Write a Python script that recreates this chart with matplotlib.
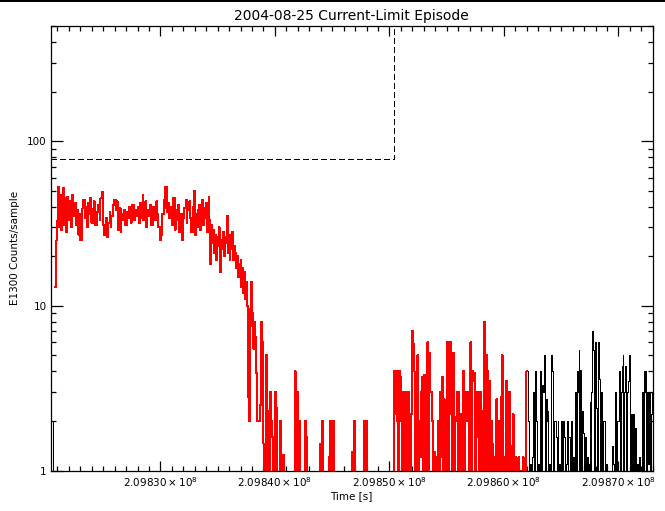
import numpy as np
import matplotlib
matplotlib.use('Agg')
import matplotlib.pyplot as plt
from matplotlib.ticker import MultipleLocator, FixedLocator, FuncFormatter, LogLocator, NullFormatter

# ---------------- data ----------------
t_first = 2.0982040e8      # time of first sample [s]
sample_dt = 80.0           # sample spacing [s]
x_start, x_end = 2.0982040e8, 2.0987302e8

counts_pre = [0, 0, 0, 2, 2]

counts_plateau = [13, 23, 25, 33, 53, 30, 47, 29, 44, 52, 31, 45,
                  28, 46, 46, 33, 43, 43, 30, 47, 35, 35, 42, 31,
                  38, 38, 27, 36, 25, 25, 39, 44, 44, 34, 40, 30,
                  42, 42, 36, 45, 32, 32, 39, 43, 31, 31, 37, 41,
                  41, 33, 45, 45, 49, 31, 27, 27, 34, 26, 32, 32,
                  37, 30, 35, 35, 41, 44, 44, 38, 43, 29, 29, 39,
                  28, 36, 36, 33, 38, 31, 31, 37, 34, 40, 40, 32,
                  39, 41, 41, 33, 38, 35, 35, 40, 32, 42, 42, 34,
                  47, 33, 33, 43, 30, 38, 38, 35, 41, 31, 31, 40,
                  37, 33, 33, 43, 36, 30, 30, 25, 27, 36, 36, 44,
                  39, 53, 53, 37, 42, 34, 34, 40, 31, 45, 45, 29,
                  38, 33, 33, 41, 28, 36, 36, 25, 34, 39, 39, 44,
                  32, 38, 38, 43, 34, 28, 28, 40, 50, 27, 36, 30]

counts_decline = [38, 32, 41, 29, 36, 44, 31, 39, 34, 42, 28, 37,
                  46, 33, 18, 31, 24, 29, 21, 27, 19, 26, 23, 30,
                  20, 16, 25, 22, 28, 20, 26, 24, 35, 21, 27, 19,
                  25, 22, 28, 19, 23, 21, 17, 20, 15, 18]

counts_drop = [15, 19, 13, 17, 12, 16, 11, 14, 10, 2.8,
               2, 9.5, 14, 7.5, 9, 5.5, 8, 6.5, 3.9, 2,
               2, 2, 2.5, 8, 4.5, 6, 1.45, 0, 0, 5,
               2.3, 0, 0, 3, 2, 1.6, 0, 0, 0, 3,
               2.4, 0, 0, 0, 2, 1.25, 0, 1.25, 0, 0,
               0]

counts_quiet = [0, 0, 0, 0, 0, 0, 0, 0, 0, 4,
                0, 0, 3, 0, 2, 0, 0, 0, 0, 0,
                2, 0, 1.6, 0, 0, 0, 0, 0, 0, 0,
                0, 0, 0, 0, 0, 0, 0, 1.45, 0, 2,
                0, 0, 0, 0, 0, 0, 1.2, 0, 2, 0,
                0, 2, 0, 0, 0, 0, 0, 0, 0, 0,
                0, 0, 0, 0, 0, 0, 0, 0, 0, 0,
                0, 0, 1.3, 0, 2, 0, 0, 0, 0, 0,
                0, 0, 0, 0, 0, 2, 0, 2, 0, 0,
                0, 0, 0, 0, 0, 0, 0, 0, 0, 0,
                0, 0, 0, 0, 0, 0, 0, 0, 0, 0,
                0, 0, 0, 0, 0, 0]

counts_noisy = [0, 4, 3, 2.2, 4, 2, 0, 4, 3.7, 2,
                0, 3, 0, 1.2, 0, 3, 0, 3, 2.2, 0,
                2.2, 7, 5.9, 4, 0, 3, 2, 5, 0, 2,
                1.2, 3, 3.7, 0, 3.8, 2, 0, 2.7, 6, 0,
                5.2, 3, 3, 2, 0, 1.3, 0, 1.2, 0, 2,
                1.6, 0, 3, 1.2, 3.7, 0, 2.7, 2, 0, 6,
                0, 6, 4, 6, 2.2, 0, 5.2, 0, 2.1, 2,
                3, 0, 3, 2, 2.2, 0, 1.1, 4, 0, 3,
                2, 3, 2, 0, 1.5, 6, 0, 4, 3.5, 3.9,
                0, 3, 1.6, 3, 0, 2.3, 3, 2, 0, 2.3,
                8, 0, 5, 4, 0, 3.5, 2, 0, 2, 1.45,
                0, 1.2, 0, 2.7, 2, 0, 2, 0, 2.8, 5,
                3.5, 0, 1.2, 0, 3.5, 2, 0, 3, 0, 1.4,
                0, 2.2, 1.2, 0, 1.2, 0, 0, 1.2, 0, 1.0,
                0, 0, 1.2, 0, 0, 0, 4]

counts_post = [4, 2, 0, 1.1, 0, 1.2, 3, 0, 4, 3,
               2, 0, 1.1, 0, 4, 0, 3.3, 3, 5, 0,
               2.7, 2, 2.3, 0, 1.1, 0, 5, 4, 0, 2,
               2, 1.6, 0, 2, 0, 1.1, 0, 2, 0, 2,
               1.6, 0, 1.1, 2, 0, 1.6, 1.6, 0, 2, 0,
               1.2, 0, 3, 0, 4, 3, 5.4, 0, 4.1, 0,
               2.3, 1.7, 0, 1.6, 0, 1.2, 0, 1.1, 2.6, 0,
               3, 7, 5.4, 0, 6, 2.4, 0, 6, 3.6, 0,
               1.5, 3, 0, 2, 2, 0, 1.1, 0, 1.0, 0,
               0, 1.0, 0, 1.4, 1.1, 0, 3, 0, 2, 2,
               4, 0, 3, 4.3, 5, 0, 3, 4.3, 0, 3,
               3.5, 5, 0, 2.2, 0, 2.2, 2, 0, 1.8, 0,
               1.1, 0, 1.2, 0, 1.0, 3, 0, 4, 3, 4,
               0, 3, 1.1, 3, 0, 2.2, 3]

limit_times = [x_start, 2.0985038e8, 2.0985038e8, x_end]
limit_values = [78, 78, 1000, 1000]

red_parts = [counts_plateau, counts_decline, counts_drop, counts_quiet, counts_noisy]
counts_all = np.concatenate([counts_pre] + red_parts + [counts_post]).astype(float)
times = t_first + sample_dt * np.arange(len(counts_all))
n_pre = len(counts_pre)
n_red = sum(len(p) for p in red_parts)
plot_vals = np.clip(counts_all, 0.05, None)

# ---------------- figure ----------------
W, H = 665, 511
fig = plt.figure(figsize=(W / 100, H / 100), dpi=100)
fig.patch.set_facecolor('white')
L, R, T, B = 50.5, 653.0, 26.0, 470.5
ax = fig.add_axes([L / W, 1 - B / H, (R - L) / W, (B - T) / H])

lw = 0.72
ax.plot(times[:n_pre], plot_vals[:n_pre], color='black', lw=lw, drawstyle='steps-mid',
        antialiased=False)
ax.plot(times[n_pre + n_red:], plot_vals[n_pre + n_red:], color='black', lw=lw,
        drawstyle='steps-mid', antialiased=False)
ax.plot(times[n_pre:n_pre + n_red], plot_vals[n_pre:n_pre + n_red], color='#ff0000',
        lw=lw, drawstyle='steps-mid', antialiased=False)
ax.plot(limit_times, limit_values, color='black', lw=0.9, linestyle=(0, (4.2, 2.6)),
        antialiased=False)

ax.set_yscale('log')
ax.set_ylim(1, 500)
ax.set_xlim(x_start, x_end)

ax.yaxis.set_major_locator(FixedLocator([1, 10, 100]))
ax.yaxis.set_major_formatter(FuncFormatter(lambda v, p: '%d' % round(v)))
ax.yaxis.set_minor_locator(LogLocator(base=10, subs=np.arange(2, 10)))
ax.yaxis.set_minor_formatter(NullFormatter())

ax.xaxis.set_major_locator(MultipleLocator(10000))
ax.xaxis.set_minor_locator(MultipleLocator(1000))
ax.xaxis.set_major_formatter(FuncFormatter(lambda v, p: r'$%.5f\times10^{8}$' % (v / 1e8)))

ax.tick_params(which='both', direction='in', top=True, right=True, width=0.9,
               colors='black', labelsize=7.5)
ax.tick_params(axis='y', which='major', length=8.6, pad=2.8)
ax.tick_params(axis='y', which='minor', length=3.8)
ax.tick_params(axis='x', which='major', length=7.5, pad=3.5)
ax.tick_params(axis='x', which='minor', length=3.8)
for s in ax.spines.values():
    s.set_linewidth(0.9)
    s.set_color('black')

ax.set_title('2004-08-25 Current-Limit Episode', fontsize=10, pad=4)
ax.set_xlabel('Time [s]', fontsize=7.5, labelpad=1.5)
ax.set_ylabel('E1300 Counts/sample', fontsize=7.5, labelpad=5)

fig.add_artist(plt.Rectangle((0, 1 - 2 / H), 1, 2 / H, transform=fig.transFigure,
                             color='black', lw=0))

fig.savefig('out.png', dpi=100, facecolor='white')
